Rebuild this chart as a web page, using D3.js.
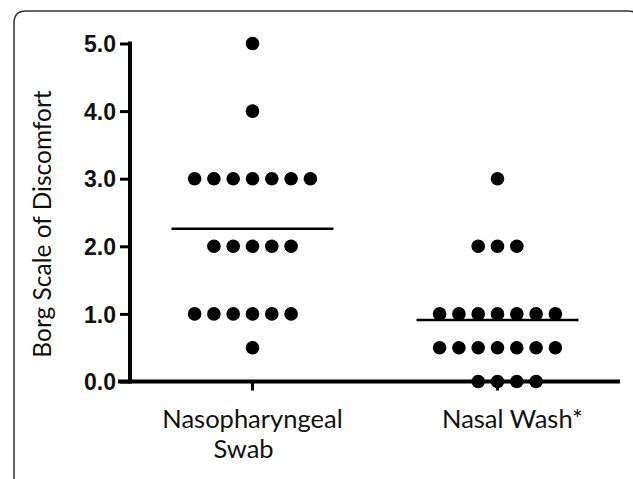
<!DOCTYPE html>
<html>
<head>
<meta charset="utf-8">
<script src="https://cdn.jsdelivr.net/npm/d3@7/dist/d3.min.js"></script>
<style>
  html, body { margin: 0; padding: 0; background: #fff; }
  svg { display: block; }
</style>
</head>
<body>
<script>
// ---- data ----
const categories = ["Nasopharyngeal Swab", "Nasal Wash*"];
const categoryLines = [["Nasopharyngeal", "Swab"], ["Nasal Wash*"]];
const npValues = [5, 4, 3, 3, 3, 3, 3, 3, 3, 2, 2, 2, 2, 2, 1, 1, 1, 1, 1, 1, 0.5];
const nwValues = [3, 2, 2, 2, 1, 1, 1, 1, 1, 1, 1, 0.5, 0.5, 0.5, 0.5, 0.5, 0.5, 0.5, 0, 0, 0, 0];
const meanValues = [2.26, 0.91];
const yTicks = [0, 1, 2, 3, 4, 5];
const yTitle = "Borg Scale of Discomfort";

const W = 633, H = 479;
const svg = d3.select("body").append("svg").attr("width", W).attr("height", H);

// frame
const fx = 14, fy = 11, fr = 12, fRight = 640, fBottom = 520;
svg.append("path")
  .attr("d", `M${fx},${fBottom} L${fx},${fy + fr} Q${fx},${fy} ${fx + fr},${fy} L${fRight - fr},${fy} Q${fRight},${fy} ${fRight},${fy + fr} L${fRight},${fBottom}`)
  .attr("fill", "none").attr("stroke", "#333").attr("stroke-width", 1.5);

const y = d3.scaleLinear().domain([0, 5]).range([381.5, 43.5]);
const x = d3.scaleBand().domain(categories).range([130, 620]);
const cx = c => x(c) + x.bandwidth() / 2;

const tickFont = "'Liberation Sans', Arial, sans-serif";
const labelFont = "Lato, 'Open Sans', sans-serif";

// y axis
const yAxis = d3.axisLeft(y).tickValues(yTicks).tickFormat(d3.format(".1f")).tickSize(10).tickPadding(4);
const gy = svg.append("g").attr("transform", "translate(130,0)").call(yAxis);
gy.select(".domain").attr("d", `M0,${y(5)}V${y(0)}`).attr("stroke", "#000").attr("stroke-width", 4).attr("stroke-linecap", "square");
gy.selectAll(".tick line").attr("stroke", "#000").attr("stroke-width", 3);
gy.selectAll(".tick text")
  .attr("font-family", tickFont).attr("font-weight", "bold").attr("font-size", 23)
  .attr("fill", "#111").attr("dy", "0.36em");

// x axis
const xAxis = d3.axisBottom(x).tickSize(9).tickFormat("");
const gx = svg.append("g").attr("transform", `translate(0,${y(0)})`).call(xAxis);
gx.select(".domain").attr("d", `M118,0H620`).attr("stroke", "#000").attr("stroke-width", 4);
gx.selectAll(".tick line").attr("stroke", "#000").attr("stroke-width", 3);

// category labels
const labelPos = [{ lines: [{ dx: 0 }, { dx: -9 }] }, { lines: [{ dx: 15 }] }];
categories.forEach((c, i) => {
  const t = svg.append("text")
    .attr("font-family", labelFont).attr("font-size", 25.5).attr("fill", "#111")
    .attr("text-anchor", "middle");
  categoryLines[i].forEach((ln, j) => {
    t.append("tspan").attr("x", cx(c) + labelPos[i].lines[j].dx).attr("y", 428 + j * 30).text(ln);
  });
});

// y title
svg.append("text")
  .attr("transform", `translate(51,224) rotate(-90)`)
  .attr("text-anchor", "middle")
  .attr("font-family", labelFont).attr("font-size", 24.5).attr("fill", "#111")
  .text(yTitle);

// dots
const spacing = 19.3, r = 6.8;
function layout(values, cat, evenBias) {
  const groups = d3.groups(values, v => v);
  const pts = [];
  groups.forEach(([v, arr]) => {
    const n = arr.length;
    const start = n % 2 ? -(n - 1) / 2 : (evenBias < 0 ? -n / 2 : -n / 2 + 1);
    arr.forEach((_, k) => pts.push({ v, x: cx(cat) + (start + k) * spacing }));
  });
  return pts;
}
const allPts = layout(npValues, categories[0], -1).concat(layout(nwValues, categories[1], 1));
svg.append("g").selectAll("circle").data(allPts).join("circle")
  .attr("cx", d => d.x).attr("cy", d => y(d.v)).attr("r", r).attr("fill", "#000");

// mean lines
svg.append("g").selectAll("line").data(categories).join("line")
  .attr("x1", c => cx(c) - 81).attr("x2", c => cx(c) + 81)
  .attr("y1", (c, i) => y(meanValues[i])).attr("y2", (c, i) => y(meanValues[i]))
  .attr("stroke", "#000").attr("stroke-width", 2.5);
</script>
</body>
</html>
